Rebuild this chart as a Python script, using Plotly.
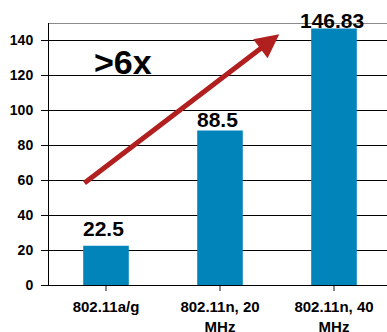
import plotly.graph_objects as go

# Throughput by standard (Mbps)
categories = ["802.11a/g", "802.11n, 20<br>MHz", "802.11n, 40<br>MHz"]
throughput = [22.5, 88.5, 146.83]
value_labels = ["22.5", "88.5", "146.83"]
y_ticks = [0, 20, 40, 60, 80, 100, 120, 140]

BAR_COLOR = "#0084BA"
ARROW_COLOR = "#B21F1F"
FONT = "Liberation Sans, Arial, sans-serif"

fig = go.Figure()
fig.add_trace(go.Bar(
    x=list(range(len(categories))),
    y=throughput,
    width=0.40,
    marker=dict(color=BAR_COLOR, line=dict(width=0)),
    hoverinfo="skip",
))

# value labels above each bar (pixel offsets from the bar top)
label_shift = [17, 11, 8]
for i, (v, t) in enumerate(zip(throughput, value_labels)):
    fig.add_annotation(
        x=i - 0.02, y=v, text=t, showarrow=False,
        yanchor="middle", yshift=label_shift[i],
        font=dict(family=FONT, size=21, color="black", weight="bold"),
    )

# growth arrow
fig.add_annotation(
    x=1.52, y=143.5, ax=-0.202, ay=57.7,
    xref="x", yref="y", axref="x", ayref="y",
    text="", showarrow=True,
    arrowhead=2, arrowsize=0.95, arrowwidth=5, arrowcolor=ARROW_COLOR,
)
fig.add_annotation(
    x=0.149, y=127.4, text=">6x", showarrow=False,
    font=dict(family=FONT, size=34, color="black", weight="bold"),
)

# grey frame line across the top of the plot area
fig.add_shape(type="line", xref="paper", yref="y", x0=0, x1=1, y0=150, y1=150,
              line=dict(color="#8a8a8a", width=2))

fig.update_layout(
    width=387, height=332,
    margin=dict(l=49, r=0, t=23, b=47),
    paper_bgcolor="white", plot_bgcolor="white",
    showlegend=False, bargap=0.6,
    font=dict(family=FONT, color="black"),
)
fig.update_xaxes(
    range=[-0.5, 2.465], automargin=False,
    tickmode="array", tickvals=list(range(len(categories))), ticktext=categories,
    tickson="boundaries", ticks="outside", ticklen=5, tickwidth=2, tickcolor="#8a8a8a",
    ticklabelstandoff=3,
    showline=True, linecolor="black", linewidth=1,
    showgrid=False, zeroline=False,
    tickfont=dict(family=FONT, size=15, color="black", weight="bold"),
)
fig.update_yaxes(
    range=[0, 150], automargin=False,
    tickmode="array", tickvals=y_ticks,
    ticks="outside", ticklen=7, tickcolor="black",
    ticklabelstandoff=5,
    showline=True, linecolor="black", linewidth=1,
    showgrid=True, gridcolor="black", gridwidth=1, zeroline=False,
    tickfont=dict(family=FONT, size=14, color="black", weight="bold"),
)

fig.write_html("out.html")
